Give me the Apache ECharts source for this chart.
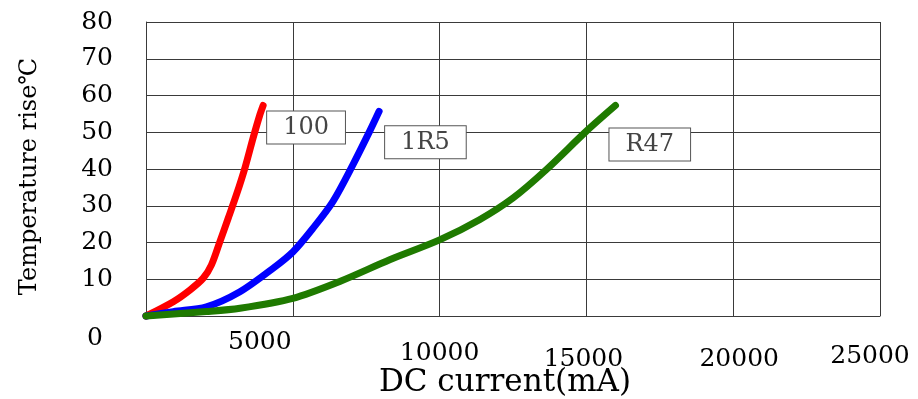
<!DOCTYPE html>
<html>
<head>
<meta charset="utf-8">
<script src="https://cdn.jsdelivr.net/npm/echarts@6/dist/echarts.min.js"></script>
<style>html,body{margin:0;padding:0;background:#fff}#c{width:918px;height:399px}</style>
</head>
<body>
<div id="c"></div>
<script>
// ---- data ----
const xTicks = [0, 5000, 10000, 15000, 20000, 25000];
const yTicks = [0, 10, 20, 30, 40, 50, 60, 70, 80];

const current100 = [0, 930, 1500, 1950, 2230, 2520, 2800, 3080, 3370, 3650, 3880, 3990];
const temp100    = [0, 3.9, 7.1, 10.3, 13.9, 20.3, 26.6, 33, 40.3, 48.5, 54.8, 57.3];

const current1R5 = [0, 930, 2060, 3200, 4330, 5010, 5690, 6370, 7050, 7620, 7940];
const temp1R5    = [0, 1.2, 2.5, 6.6, 13, 17.5, 23.9, 31.2, 41.2, 50.3, 55.7];

const currentR47 = [0, 2060, 3200, 5000, 6600, 8300, 10000, 11360, 12500, 13630, 15000, 15990];
const tempR47    = [0, 1.2, 2.1, 4.8, 9.4, 15.3, 20.7, 26.2, 32.1, 39.8, 50.3, 57.3];

const seriesNames = ['100', '1R5', 'R47'];
const xName = 'DC current(mA)';
const yName = 'Temperature rise℃';

// ---- chart ----
const pair = (xs, ys) => xs.map((x, i) => [x, ys[i]]);
const chart = echarts.init(document.getElementById('c'));
const font = 'DejaVu Serif';
const gridColor = '#3a3a3a';

const labelStyle = {
  fontFamily: font, fontSize: 24, color: '#444',
  backgroundColor: '#fff', borderColor: '#555', borderWidth: 1,
  padding: [4, 16, 4, 16]
};

function mk(name, xs, ys, color, offset) {
  const last = xs.length - 1;
  return {
    name: name, type: 'line', smooth: 0.3, symbol: 'none', clip: false,
    data: pair(xs, ys),
    lineStyle: { color: color, width: 7, cap: 'round', join: 'round' },
    markPoint: {
      symbol: 'circle', symbolSize: 0, silent: true, animation: false,
      data: [{ coord: [xs[last], ys[last]],
        label: Object.assign({ show: true, formatter: name, position: offset }, labelStyle) }]
    }
  };
}

const xRich = {
  a: { fontFamily: font, fontSize: 25, color: '#000', padding: [0, 102, 36, 0] },
  b: { fontFamily: font, fontSize: 25, color: '#000', padding: [0, 66, 28, 0] },
  c: { fontFamily: font, fontSize: 25, color: '#000', padding: [0, 0, 6, 0] },
  d: { fontFamily: font, fontSize: 25, color: '#000', padding: [6, 6, 0, 0] },
  e: { fontFamily: font, fontSize: 25, color: '#000', padding: [6, 0, 0, 12] },
  f: { fontFamily: font, fontSize: 25, color: '#000', padding: [0, 20, 0, 0] }
};
const xKeys = ['a', 'b', 'c', 'd', 'e', 'f'];

chart.setOption({
  animation: false,
  backgroundColor: '#fff',
  grid: { left: 146, right: 38, top: 22, bottom: 83, containLabel: false, outerBoundsMode: 'none' },
  xAxis: {
    type: 'value', min: xTicks[0], max: xTicks[xTicks.length - 1], interval: 5000,
    name: xName, nameLocation: 'middle', nameGap: 51, nameMoveOverlap: false,
    nameTextStyle: { fontFamily: font, fontSize: 31, color: '#000', padding: [0, 16, 0, 0] },
    axisLine: { show: true, lineStyle: { color: gridColor, width: 1 } },
    axisTick: { show: false },
    splitLine: { show: true, lineStyle: { color: gridColor, width: 1 } },
    axisLabel: {
      margin: 40, verticalAlign: 'middle',
      formatter: function (v) {
        const i = xTicks.indexOf(v);
        return '{' + xKeys[i] + '|' + v + '}';
      },
      rich: xRich
    }
  },
  yAxis: {
    type: 'value', min: yTicks[0], max: yTicks[yTicks.length - 1], interval: 10,
    name: yName, nameLocation: 'middle', nameGap: 104, nameRotate: 90, nameMoveOverlap: false,
    nameTextStyle: { fontFamily: font, fontSize: 24, color: '#000', padding: [0, 15, 0, 0] },
    axisLine: { show: true, lineStyle: { color: gridColor, width: 1 } },
    axisTick: { show: false },
    splitLine: { show: true, lineStyle: { color: gridColor, width: 1 } },
    axisLabel: {
      margin: 33, fontFamily: font, fontSize: 25, color: '#000',
      padding: [0, 0, 4, 0],
      formatter: function (v) { return v === 0 ? '' : String(v); }
    }
  },
  series: [
    mk(seriesNames[0], current100, temp100, '#ff0000', [4, 6]),
    mk(seriesNames[1], current1R5, temp1R5, '#0000ff', [6, 15]),
    mk(seriesNames[2], currentR47, tempR47, '#1f7a00', [-6, 23])
  ]
});
</script>
</body>
</html>
